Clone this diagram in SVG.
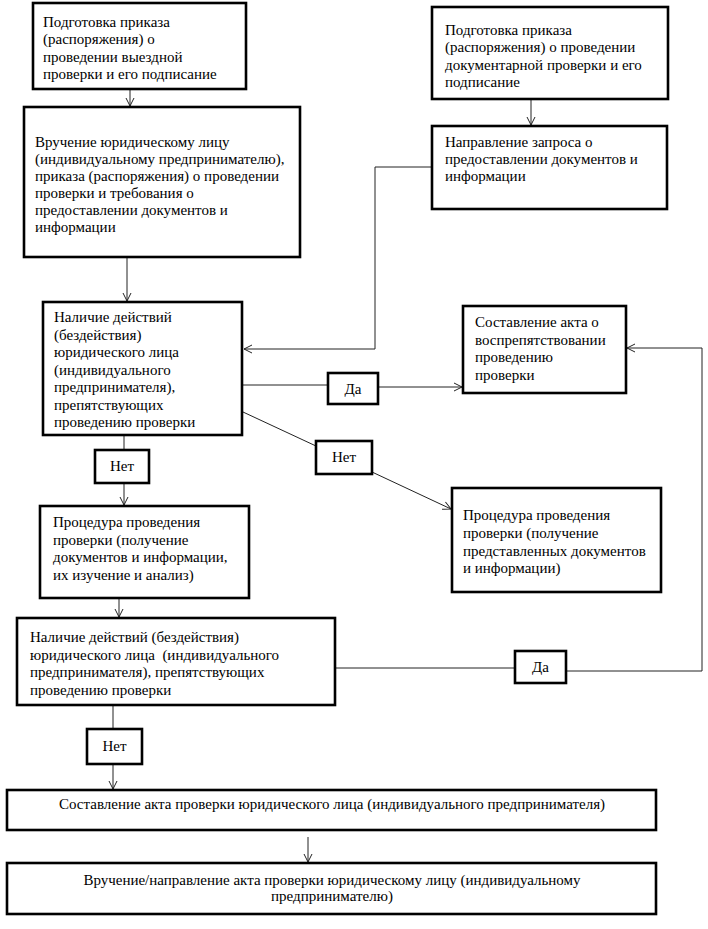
<svg xmlns="http://www.w3.org/2000/svg" width="708" height="929" viewBox="0 0 708 929">
<style>
.box{fill:#fff;stroke:#000;stroke-width:2.6}
.t{font-family:"Liberation Serif","Times New Roman",serif;font-size:15px;fill:#000}
.c{text-anchor:middle}
.ln{fill:none;stroke:#222;stroke-width:1}
</style>
<defs>
<marker id="ah" markerWidth="10" markerHeight="10" refX="9" refY="5" orient="auto" markerUnits="userSpaceOnUse">
<path d="M1,1 L9,5 L1,9" fill="none" stroke="#222" stroke-width="1"/>
</marker>
</defs>
<rect width="708" height="929" fill="#fff"/>
<g id="connectors">
<path class="ln" d="M130,90 V106" marker-end="url(#ah)"/>
<path class="ln" d="M531,100 V125" marker-end="url(#ah)"/>
<path class="ln" d="M127,258 V301" marker-end="url(#ah)"/>
<path class="ln" d="M431,167 H375 V349 H244" marker-end="url(#ah)"/>
<path class="ln" d="M243,385 H328"/>
<path class="ln" d="M378,387 H462" marker-end="url(#ah)"/>
<path class="ln" d="M243,412 L316,446"/>
<path class="ln" d="M372,472 L451,509" marker-end="url(#ah)"/>
<path class="ln" d="M124,436 V450"/>
<path class="ln" d="M124,483 V505" marker-end="url(#ah)"/>
<path class="ln" d="M119,599 V617" marker-end="url(#ah)"/>
<path class="ln" d="M336,668 H515"/>
<path class="ln" d="M566,671 H702 V348 H627" marker-end="url(#ah)"/>
<path class="ln" d="M113,706 V729"/>
<path class="ln" d="M113,764 V789" marker-end="url(#ah)"/>
<path class="ln" d="M308,837 V862" marker-end="url(#ah)"/>
</g>
<g id="n1">
<rect class="box" x="33" y="3" width="213" height="86"/>
<text class="t"><tspan x="43" y="27">Подготовка приказа</tspan><tspan x="43" y="44.3">(распоряжения) о</tspan><tspan x="43" y="61.6">проведении выездной</tspan><tspan x="43" y="79">проверки и его подписание</tspan></text>
</g>
<g id="n2">
<rect class="box" x="24" y="107" width="276" height="150"/>
<text class="t"><tspan x="35" y="147">Вручение юридическому лицу</tspan><tspan x="35" y="164">(индивидуальному предпринимателю),</tspan><tspan x="35" y="181">приказа (распоряжения) о проведении</tspan><tspan x="35" y="198">проверки и требования о</tspan><tspan x="35" y="215">предоставлении документов и</tspan><tspan x="35" y="232">информации</tspan></text>
</g>
<g id="n3">
<rect class="box" x="432" y="7" width="236" height="92"/>
<text class="t"><tspan x="445" y="35">Подготовка приказа</tspan><tspan x="445" y="52.3">(распоряжения) о проведении</tspan><tspan x="445" y="69.6">документарной проверки и его</tspan><tspan x="445" y="87">подписание</tspan></text>
</g>
<g id="n4">
<rect class="box" x="432" y="126" width="235" height="83"/>
<text class="t"><tspan x="445" y="147">Направление запроса о</tspan><tspan x="445" y="164">предоставлении документов и</tspan><tspan x="445" y="181">информации</tspan></text>
</g>
<g id="n5">
<rect class="box" x="43" y="302" width="199" height="133"/>
<text class="t"><tspan x="54" y="322">Наличие действий</tspan><tspan x="54" y="339.5">(бездействия)</tspan><tspan x="54" y="357">юридического лица</tspan><tspan x="54" y="374.5">(индивидуального</tspan><tspan x="54" y="392">предпринимателя),</tspan><tspan x="54" y="409.5">препятствующих</tspan><tspan x="54" y="427">проведению проверки</tspan></text>
</g>
<g id="n6">
<rect class="box" x="463" y="306" width="163" height="87"/>
<text class="t"><tspan x="475" y="327">Составление акта о</tspan><tspan x="475" y="344.7">воспрепятствовании</tspan><tspan x="475" y="362.3">проведению</tspan><tspan x="475" y="380">проверки</tspan></text>
</g>
<g id="da1">
<rect class="box" x="328" y="373" width="50" height="31"/>
<text class="t c" x="353" y="394">Да</text>
</g>
<g id="net1">
<rect class="box" x="95" y="450" width="54" height="33"/>
<text class="t c" x="122" y="471">Нет</text>
</g>
<g id="net2">
<rect class="box" x="316" y="441" width="56" height="33"/>
<text class="t c" x="344" y="462">Нет</text>
</g>
<g id="n7">
<rect class="box" x="40" y="506" width="209" height="92"/>
<text class="t"><tspan x="53" y="527">Процедура проведения</tspan><tspan x="53" y="544.5">проверки (получение</tspan><tspan x="53" y="562">документов и информации,</tspan><tspan x="53" y="579.5">их изучение и анализ)</tspan></text>
</g>
<g id="n8">
<rect class="box" x="452" y="488" width="209" height="104"/>
<text class="t"><tspan x="463" y="520">Процедура проведения</tspan><tspan x="463" y="538">проверки (получение</tspan><tspan x="463" y="556">представленных документов</tspan><tspan x="463" y="573">и информации)</tspan></text>
</g>
<g id="n9">
<rect class="box" x="17" y="618" width="318" height="87"/>
<text class="t" xml:space="preserve"><tspan x="30" y="642">Наличие действий (бездействия)</tspan><tspan x="30" y="659.5">юридического лица  (индивидуального</tspan><tspan x="30" y="677">предпринимателя), препятствующих</tspan><tspan x="30" y="694.5">проведению проверки</tspan></text>
</g>
<g id="da2">
<rect class="box" x="515" y="651" width="51" height="32"/>
<text class="t c" x="540.5" y="672">Да</text>
</g>
<g id="net3">
<rect class="box" x="87" y="729" width="55" height="35"/>
<text class="t c" x="114.5" y="751">Нет</text>
</g>
<g id="n10">
<rect class="box" x="7" y="790" width="649" height="40"/>
<text class="t c" x="332" y="809">Составление акта проверки юридического лица (индивидуального предпринимателя)</text>
</g>
<g id="n11">
<rect class="box" x="7" y="863" width="649" height="51"/>
<text class="t c"><tspan x="332" y="885">Вручение/направление акта проверки юридическому лицу (индивидуальному</tspan><tspan x="332" y="901">предпринимателю)</tspan></text>
</g>
</svg>
